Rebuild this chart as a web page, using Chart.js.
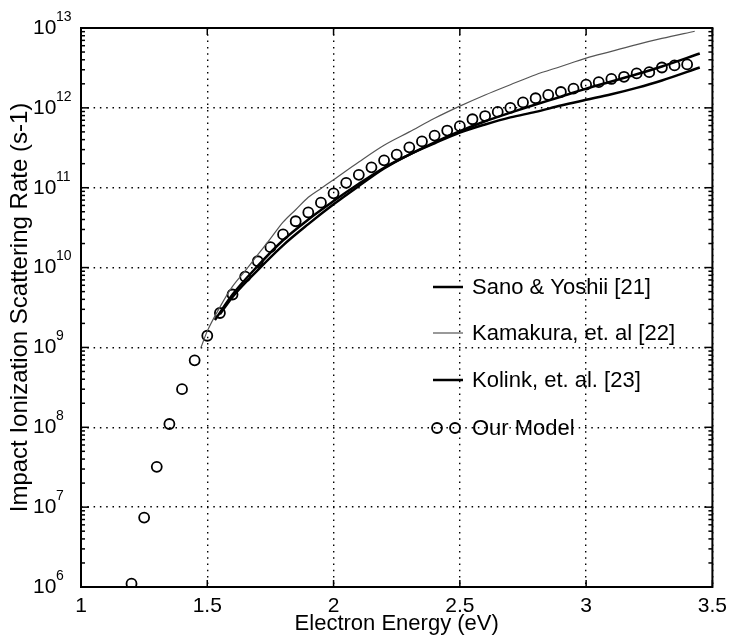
<!DOCTYPE html>
<html>
<head>
  <meta charset="utf-8">
  <title>Impact Ionization Scattering Rate</title>
  <script src="https://cdn.jsdelivr.net/npm/chart.js@4.4.1/dist/chart.umd.min.js"></script>
  <style>
    html, body { margin: 0; padding: 0; background: #fff; }
    canvas { display: block; }
  </style>
</head>
<body>
  <canvas id="rate_chart" width="734" height="637"></canvas>

  <script>
    // our model (circles), every 0.05 eV
    const model_energy = [1.20, 1.25, 1.30, 1.35, 1.40, 1.45, 1.50, 1.55, 1.60, 1.65, 1.70, 1.75, 1.80, 1.85, 1.90,
      1.95, 2.00, 2.05, 2.10, 2.15, 2.20, 2.25, 2.30, 2.35, 2.40, 2.45, 2.50, 2.55, 2.60, 2.65, 2.70, 2.75, 2.80,
      2.85, 2.90, 2.95, 3.00, 3.05, 3.10, 3.15, 3.20, 3.25, 3.30, 3.35, 3.40];
    const model_rate = [1.1e6, 7.4e6, 3.2e7, 1.1e8, 3.0e8, 6.9e8, 1.4e9, 2.7e9, 4.6e9, 7.7e9, 1.2e10, 1.8e10, 2.6e10,
      3.8e10, 4.9e10, 6.5e10, 8.5e10, 1.15e11, 1.45e11, 1.8e11, 2.2e11, 2.6e11, 3.2e11, 3.8e11, 4.5e11, 5.2e11,
      5.9e11, 7.2e11, 7.9e11, 8.9e11, 1.0e12, 1.17e12, 1.32e12, 1.45e12, 1.58e12, 1.74e12, 1.95e12, 2.1e12, 2.3e12,
      2.45e12, 2.7e12, 2.8e12, 3.2e12, 3.4e12, 3.5e12];
    // Sano & Yoshii [21]
    const sano_energy = [1.53, 1.6, 1.7, 1.8, 1.9, 2.0, 2.1, 2.2, 2.3, 2.4, 2.5, 2.6, 2.7, 2.8, 2.9, 3.0, 3.1, 3.2, 3.3, 3.45];
    const sano_rate = [2.2e9, 4.6e9, 1.05e10, 2.2e10, 4.0e10, 6.8e10, 1.12e11, 1.78e11, 2.6e11, 3.7e11, 5.1e11,
      6.8e11, 8.7e11, 1.1e12, 1.38e12, 1.74e12, 2.14e12, 2.63e12, 3.3e12, 4.8e12];
    // Kamakura, et. al [22]
    const kamakura_energy = [1.475, 1.5, 1.55, 1.6, 1.65, 1.7, 1.75, 1.8, 1.85, 1.9, 1.95, 2.0, 2.1, 2.2, 2.3, 2.4,
      2.5, 2.6, 2.7, 2.8, 2.9, 3.0, 3.1, 3.2, 3.3, 3.43];
    const kamakura_rate = [1.0e9, 1.6e9, 3.2e9, 5.8e9, 9.1e9, 1.45e10, 2.3e10, 3.7e10, 5.3e10, 7.6e10, 9.8e10,
      1.26e11, 2.1e11, 3.4e11, 5.0e11, 7.4e11, 1.05e12, 1.45e12, 1.95e12, 2.6e12, 3.3e12, 4.2e12, 5.1e12, 6.2e12,
      7.4e12, 9.1e12];
    // Kolink, et. al. [23]
    const kolink_energy = [1.55, 1.6, 1.7, 1.8, 1.9, 2.0, 2.1, 2.2, 2.3, 2.4, 2.5, 2.6, 2.7, 2.8, 2.9, 3.0, 3.1, 3.2, 3.3, 3.45];
    const kolink_rate = [2.6e9, 4.3e9, 9.3e9, 1.9e10, 3.5e10, 6.2e10, 1.05e11, 1.74e11, 2.6e11, 3.6e11, 4.9e11,
      6.2e11, 7.6e11, 8.9e11, 1.07e12, 1.26e12, 1.48e12, 1.78e12, 2.2e12, 3.2e12];

    const x_ticks = [1, 1.5, 2, 2.5, 3, 3.5];
    const y_tick_exps = [6, 7, 8, 9, 10, 11, 12, 13];
    const legend_labels = ["Sano & Yoshii [21]", "Kamakura, et. al [22]", "Kolink, et. al. [23]", "Our Model"];

    const font_family = "'Liberation Sans', Arial, Helvetica, sans-serif";

    function to_points(xs, ys) {
      return xs.map(function (v, i) { return { x: v, y: ys[i] }; });
    }

    function line_set(label, xs, ys, color, width) {
      return {
        label: label,
        data: to_points(xs, ys),
        borderColor: color,
        borderWidth: width,
        pointRadius: 0,
        fill: false,
        cubicInterpolationMode: "monotone"
      };
    }

    // box, inward ticks, y labels with exponents and the legend
    const frame_plugin = {
      id: "frame",
      afterDraw(chart) {
        const ctx = chart.ctx;
        const a = chart.chartArea;
        const xs = chart.scales.x, ys = chart.scales.y;
        ctx.save();
        ctx.strokeStyle = "#000";
        ctx.fillStyle = "#000";

        function seg(x1, y1, x2, y2) {
          ctx.beginPath();
          ctx.moveTo(x1, y1);
          ctx.lineTo(x2, y2);
          ctx.stroke();
        }

        ctx.lineWidth = 1.5;
        x_ticks.forEach(function (v) {
          const px = xs.getPixelForValue(v);
          seg(px, a.bottom, px, a.bottom - 7);
          seg(px, a.top, px, a.top + 7);
        });
        y_tick_exps.forEach(function (e) {
          for (let k = 1; k <= 9; k++) {
            if (e === 13 && k > 1) break;
            const py = ys.getPixelForValue(k * Math.pow(10, e));
            const len = k === 1 ? 8 : 4;
            seg(a.left, py, a.left + len, py);
            seg(a.right, py, a.right - len, py);
          }
        });

        ctx.lineWidth = 2;
        ctx.strokeRect(a.left, a.top, a.right - a.left, a.bottom - a.top);

        // y tick labels: 10 with superscript exponent
        ctx.textAlign = "left";
        ctx.textBaseline = "middle";
        y_tick_exps.forEach(function (e) {
          const py = ys.getPixelForValue(Math.pow(10, e));
          ctx.font = "21px " + font_family;
          ctx.fillText("10", 33, py);
          ctx.font = "14px " + font_family;
          ctx.fillText(String(e), 56, py - 11);
        });

        // legend
        const rows = [287, 333, 380, 428];
        ctx.font = "22px " + font_family;
        legend_labels.forEach(function (txt, i) {
          const ds = chart.data.datasets[i];
          const ly = rows[i];
          if (i < 3) {
            ctx.strokeStyle = ds.borderColor;
            ctx.lineWidth = ds.borderWidth;
            seg(433, ly, 463, ly);
          } else {
            ctx.strokeStyle = "#000";
            ctx.lineWidth = 1.8;
            [437, 455].forEach(function (cx) {
              ctx.beginPath();
              ctx.arc(cx, ly, 5, 0, Math.PI * 2);
              ctx.stroke();
            });
          }
          ctx.fillStyle = "#000";
          ctx.fillText(txt, 472, ly + 1);
        });
        ctx.restore();
      }
    };

    const rate_canvas = document.getElementById("rate_chart");
    const rate_chart = new Chart(rate_canvas, {
      type: "line",
      data: {
        datasets: [
          line_set(legend_labels[0], sano_energy, sano_rate, "#000", 2.5),
          line_set(legend_labels[1], kamakura_energy, kamakura_rate, "#555", 1.2),
          line_set(legend_labels[2], kolink_energy, kolink_rate, "#000", 2.5),
          {
            label: legend_labels[3],
            data: to_points(model_energy, model_rate),
            showLine: false,
            pointStyle: "circle",
            pointRadius: 5,
            pointBorderWidth: 1.8,
            pointBorderColor: "#000",
            pointBackgroundColor: "rgba(0,0,0,0)",
            borderColor: "#000"
          }
        ]
      },
      options: {
        responsive: false,
        animation: false,
        devicePixelRatio: 1,
        layout: { padding: { top: 28, right: 16, left: 0, bottom: 0 } },
        plugins: {
          legend: { display: false },
          tooltip: { enabled: false }
        },
        scales: {
          x: {
            type: "linear",
            min: 1,
            max: 3.5,
            afterBuildTicks: function (scale) {
              scale.ticks = x_ticks.map(function (v) { return { value: v }; });
            },
            afterFit: function (scale) { scale.height = 50; },
            ticks: {
              color: "#000",
              padding: 7,
              maxRotation: 0,
              autoSkip: false,
              font: { family: font_family, size: 21 },
              callback: function (value) { return String(value); }
            },
            grid: { color: "#000", lineWidth: 1.4, drawTicks: false },
            border: { display: false, dash: [1.5, 4.8] },
            title: {
              display: true,
              text: "Electron Energy (eV)",
              color: "#000",
              padding: { top: 0, bottom: 0 },
              font: { family: font_family, size: 22 }
            }
          },
          y: {
            type: "logarithmic",
            min: 1e6,
            max: 1e13,
            afterBuildTicks: function (scale) {
              scale.ticks = y_tick_exps.map(function (e) { return { value: Math.pow(10, e) }; });
            },
            afterFit: function (scale) { scale.width = 81; },
            ticks: { display: false },
            grid: { color: "#000", lineWidth: 1.4, drawTicks: false },
            border: { display: false, dash: [1.5, 4.8] },
            title: {
              display: true,
              text: "Impact Ionization Scattering Rate (s-1)",
              color: "#000",
              padding: { top: 6, bottom: 0 },
              font: { family: font_family, size: 24 }
            }
          }
        }
      },
      plugins: [frame_plugin]
    });
  </script>
</body>
</html>
